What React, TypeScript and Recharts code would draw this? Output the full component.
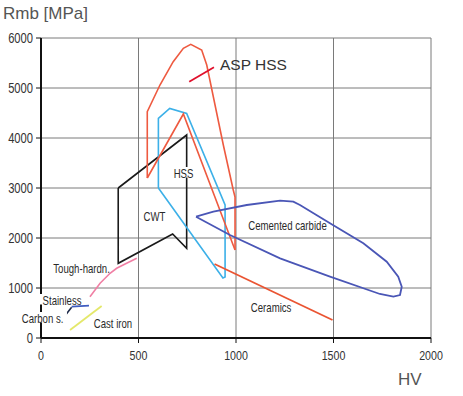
import React from 'react';
import { ComposedChart, Line, XAxis, YAxis, CartesianGrid, ReferenceDot } from 'recharts';

// Axis ticks
const xTicks = [0, 500, 1000, 1500, 2000];
const yTicks = [0, 1000, 2000, 3000, 4000, 5000, 6000];

// ASP HSS outline (HV, Rmb MPa)
const aspHssHV = [545, 545, 610, 678, 730, 768, 824, 850, 935, 986, 995, 995];
const aspHssRmb = [3200, 4526, 5060, 5526, 5794, 5874, 5760, 5460, 3860, 2960, 2820, 1760];

// HSS (red inner wedge)
const hssHV = [545, 730, 995];
const hssRmb = [3200, 4480, 1760];

// CWT (cyan)
const cwtHV = [602, 602, 660, 747, 944, 944, 933, 602];
const cwtRmb = [3000, 4394, 4590, 4490, 2660, 1220, 1200, 3000];

// Black region
const blackHV = [396, 747, 747, 675, 396, 396];
const blackRmb = [3000, 4060, 1794, 2080, 1494, 3000];

// Cemented carbide (blue loop)
const carbideHV = [795, 884, 1055, 1226, 1294, 1328, 1482, 1653, 1773, 1832, 1850, 1841, 1807, 1738, 1482, 1226, 969, 795];
const carbideRmb = [2426, 2526, 2660, 2746, 2726, 2660, 2294, 1894, 1526, 1226, 1026, 860, 826, 880, 1226, 1594, 2060, 2426];

// Ceramics
const ceramicsHV = [890, 1495];
const ceramicsRmb = [1480, 360];

// Tough-hardened steels
const toughHV = [251, 303, 354, 388, 439, 491];
const toughRmb = [826, 1094, 1294, 1394, 1494, 1594];

// Stainless
const stainlessHV = [157, 246];
const stainlessRmb = [626, 646];

// Carbon steel
const carbonHV = [123, 157];
const carbonRmb = [446, 614];

// Cast iron
const castHV = [149, 311];
const castRmb = [160, 640];

// ASP HSS leader line
const leaderHV = [760, 887];
const leaderRmb = [5126, 5414];

// Region labels
const noteText = ['HSS', 'CWT', 'Cemented carbide', 'Ceramics', 'Tough-hardn.', 'Stainless', 'Carbon s.', 'Cast iron'];
const noteHV = [731, 582, 1264, 1180, 208, 108, 8, 369];
const noteRmb = [3300, 2440, 2260, 620, 1400, 760, 400, 300];
const noteMasked = [true, false, false, false, false, true, true, false];

const aspLabel = { text: 'ASP HSS', hv: 918, rmb: 5480 };

const zip = (xs: number[], ys: number[]) => xs.map((x, i) => ({ x, y: ys[i] }));

const series = [
  { key: 'tough', data: zip(toughHV, toughRmb), color: '#f07fa4', width: 1.6 },
  { key: 'cast', data: zip(castHV, castRmb), color: '#e4e86a', width: 1.8 },
  { key: 'carbon', data: zip(carbonHV, carbonRmb), color: '#1e2a4a', width: 1.6 },
  { key: 'stainless', data: zip(stainlessHV, stainlessRmb), color: '#3e5cc0', width: 1.8 },
  { key: 'black', data: zip(blackHV, blackRmb), color: '#1a1a1a', width: 1.6 },
  { key: 'cwt', data: zip(cwtHV, cwtRmb), color: '#3cb0e8', width: 1.6 },
  { key: 'hss', data: zip(hssHV, hssRmb), color: '#ee5a40', width: 1.6 },
  { key: 'asp', data: zip(aspHssHV, aspHssRmb), color: '#ee5a40', width: 1.6 },
  { key: 'carbide', data: zip(carbideHV, carbideRmb), color: '#4a56b6', width: 1.8 },
  { key: 'ceramics', data: zip(ceramicsHV, ceramicsRmb), color: '#ea5432', width: 1.8 },
  { key: 'leader', data: zip(leaderHV, leaderRmb), color: '#e0102c', width: 1.8 },
];

const SANS = "'Liberation Sans', Arial, sans-serif";

const NarrowText = ({ x, y, text, size, scale, anchor, fill, dy }: any) => (
  <text
    transform={`translate(${x},${y}) scale(${scale},1)`}
    x={0}
    y={0}
    dy={dy}
    textAnchor={anchor}
    fontFamily={SANS}
    fontSize={size}
    fill={fill}
  >
    {text}
  </text>
);

const NoteShape = (props: any) => {
  const { cx, cy, text, masked } = props;
  if (cx == null || cy == null) return null;
  const w = text.length * 5.2 + 2;
  return (
    <g>
      {masked && <rect x={cx - w / 2} y={cy - 6} width={w} height={10.5} fill="#fff" />}
      <NarrowText x={cx} y={cy} dy="0.36em" text={text} size={13} scale={0.74} anchor="middle" fill="#2a2a2a" />
    </g>
  );
};

const AspShape = (props: any) => {
  const { cx, cy, text } = props;
  if (cx == null || cy == null) return null;
  return (
    <text x={cx} y={cy} dy="0.36em" textAnchor="start" fontFamily={SANS} fontSize={15.5} fill="#333">
      {text}
    </text>
  );
};

const XTick = (props: any) => {
  const { x, y, payload } = props;
  return <NarrowText x={x} y={y} dy="0.71em" text={String(payload.value)} size={13} scale={0.82} anchor="middle" fill="#333" />;
};

const YTick = (props: any) => {
  const { x, y, payload } = props;
  return <NarrowText x={x} y={y} dy="0.36em" text={String(payload.value)} size={14} scale={0.8} anchor="end" fill="#333" />;
};

const YTitle = () => (
  <text x={3} y={19} fontFamily={SANS} fontSize={17} fill="#555">Rmb [MPa]</text>
);
const XTitle = () => (
  <text x={398} y={385} fontFamily={SANS} fontSize={17} fill="#555">HV</text>
);

export default function App() {
  return (
    <div style={{ position: 'absolute', left: 0, top: 0, width: 463, height: 396, background: '#fff' }}>
      <ComposedChart width={463} height={396} margin={{ top: 38, right: 32, bottom: 0, left: 0 }}>
        <CartesianGrid stroke="#7a7a7a" strokeWidth={1} />
        <XAxis
          type="number"
          dataKey="x"
          domain={[0, 2000]}
          ticks={xTicks}
          height={58}
          allowDataOverflow
          axisLine={{ stroke: '#111', strokeWidth: 2 }}
          tickLine={{ stroke: '#111' }}
          tickSize={5}
          tickMargin={8}
          tick={<XTick />}
          label={<XTitle />}
        />
        <YAxis
          type="number"
          dataKey="y"
          domain={[0, 6000]}
          ticks={yTicks}
          width={41}
          allowDataOverflow
          axisLine={{ stroke: '#111', strokeWidth: 2 }}
          tickLine={{ stroke: '#111' }}
          tickSize={5}
          tickMargin={3}
          tick={<YTick />}
          label={<YTitle />}
        />
        {series.map((s) => (
          <Line
            key={s.key}
            data={s.data}
            dataKey="y"
            type="linear"
            stroke={s.color}
            strokeWidth={s.width}
            dot={false}
            activeDot={false}
            isAnimationActive={false}
          />
        ))}
        {noteText.map((t, i) => (
          <ReferenceDot
            key={t}
            x={noteHV[i]}
            y={noteRmb[i]}
            r={0}
            ifOverflow="visible"
            shape={(p: any) => <NoteShape {...p} text={t} masked={noteMasked[i]} />}
          />
        ))}
        <ReferenceDot
          x={aspLabel.hv}
          y={aspLabel.rmb}
          r={0}
          ifOverflow="visible"
          shape={(p: any) => <AspShape {...p} text={aspLabel.text} />}
        />
      </ComposedChart>
    </div>
  );
}
